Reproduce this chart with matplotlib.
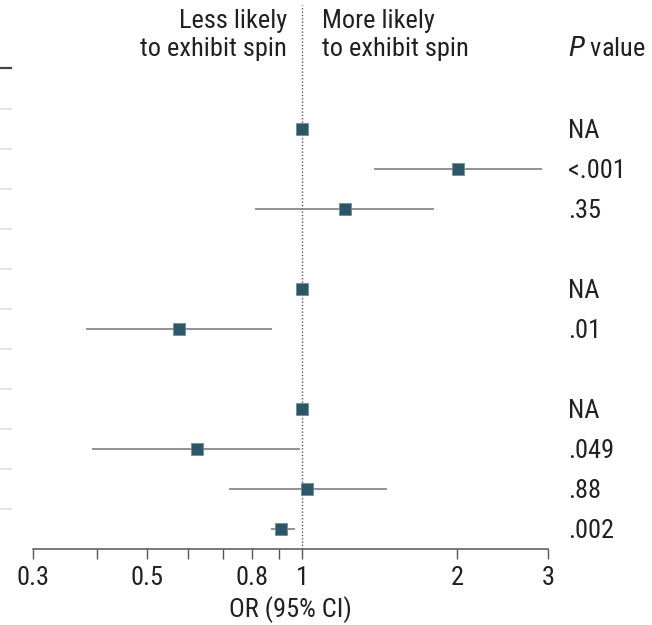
"""
Forest plot: odds of exhibiting spin
"""
import matplotlib
matplotlib.use("Agg")
import matplotlib.pyplot as plt
from matplotlib import font_manager
from matplotlib.ticker import NullLocator

# rows top to bottom, None = group header row (no estimate)
row_or = [None, 1.0, 2.01, 1.21, None, 1.0, 0.577, None, 1.0, 0.625, 1.02, 0.91]
row_lo = [None, None, 1.38, 0.81, None, None, 0.381, None, None, 0.39, 0.72, 0.868]
row_hi = [None, None, 2.92, 1.80, None, None, 0.875, None, None, 0.99, 1.46, 0.966]
row_p = ["", "NA", "<.001", ".35", "", "NA", ".01", "", "NA", ".049", ".88", ".002"]

tick_vals = [0.3, 0.4, 0.5, 0.6, 0.7, 0.8, 0.9, 1, 2, 3]
tick_labels = ["0.3", "", "0.5", "", "", "0.8", "", "1", "2", "3"]

TEAL = "#2b5766"
GREY = "#7f7f7f"
INK = "#231f20"


def pick_font():
    names = {f.name for f in font_manager.fontManager.ttflist}
    for cand in ["Liberation Sans Narrow", "DejaVu Sans Condensed", "Roboto Condensed",
                 "Open Sans Condensed", "Noto Sans"]:
        if cand in names:
            return cand
    return "DejaVu Sans"


font = pick_font()
plt.rcParams["font.family"] = [font, "DejaVu Sans"]
plt.rcParams["font.size"] = 19

fig = plt.figure(figsize=(6.52, 6.25), dpi=100)
W, H = 652, 625
ax = fig.add_axes([33 / W, 1 - 549 / H, 515 / W, 544 / H])

ax.set_xscale("log")
ax.set_xlim(0.3, 3)
ax.set_ylim(11.5, -2.1)

# reference line at OR = 1
ax.axvline(1, color="#555555", lw=1.0, ls=(0, (1, 1.4)), zorder=1)

for i, (v, lo, hi) in enumerate(zip(row_or, row_lo, row_hi)):
    if v is None:
        continue
    if lo is not None:
        ax.plot([lo, hi], [i, i], color=GREY, lw=1.2, solid_capstyle="butt", zorder=2)
    ax.plot(v, i, marker="s", ms=8.8, color=TEAL, mec="#6f8f99", mew=0.6, zorder=3)

ytr = ax.get_yaxis_transform()
for i, p in enumerate(row_p):
    if p:
        ax.text(1.039, i + 0.225, p, transform=ytr, ha="left", va="baseline", color=INK,
                fontstretch="condensed")

# row separators from the table on the left
xl0, xl1 = -33 / 515, -22 / 515
for k in range(11):
    ax.plot([xl0, xl1], [k + 0.5, k + 0.5], transform=ytr, color="#dddddd",
            lw=1.1, clip_on=False)
ax.plot([xl0, xl1], [-0.525, -0.525], transform=ytr, color="#444444", lw=1.6,
        clip_on=False)

# headers
head = dict(va="baseline", color=INK, fontstretch="condensed")
fig.text(287 / W, 1 - 28 / H, "Less likely", ha="right", **head)
fig.text(287 / W, 1 - 56 / H, "to exhibit spin", ha="right", **head)
fig.text(322 / W, 1 - 28 / H, "More likely", ha="left", **head)
fig.text(322 / W, 1 - 56 / H, "to exhibit spin", ha="left", **head)
fig.text(568 / W, 1 - 56 / H, r"$\it{P}$ value", ha="left", **head)

ax.set_xticks(tick_vals)
ax.set_xticklabels(tick_labels, fontstretch="condensed")
ax.xaxis.set_minor_locator(NullLocator())
ax.tick_params(axis="x", direction="out", length=7, width=1, color="#555555",
               labelcolor=INK, pad=5)
ax.set_yticks([])
for s in ["top", "left", "right"]:
    ax.spines[s].set_visible(False)
ax.spines["bottom"].set_color("#555555")
ax.spines["bottom"].set_linewidth(1.1)
ax.set_xlabel("OR (95% CI)", color=INK, labelpad=5, fontstretch="condensed")

fig.savefig("out.png", dpi=100)
